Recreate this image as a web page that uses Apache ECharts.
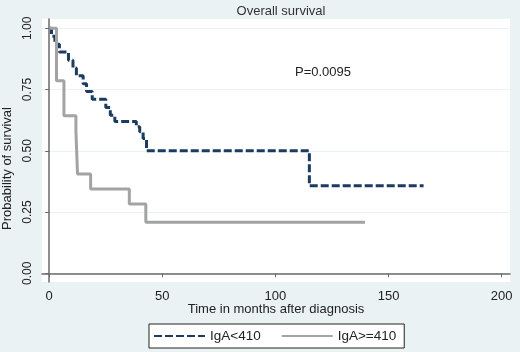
<!DOCTYPE html>
<html>
<head>
<meta charset="utf-8">
<script src="https://cdn.jsdelivr.net/npm/echarts@6/dist/echarts.min.js"></script>
<style>
  html, body { margin: 0; padding: 0; background: #eaf2f3; }
  #km { width: 520px; height: 352px; }
</style>
</head>
<body>
<div id="km"></div>
<script>
// Kaplan-Meier steps (time in months, survival)
var seriesNames = ['IgA<410', 'IgA>=410'];
var lowTimes = [0, 1, 2.5, 4.5, 8.5, 10.5, 12, 15, 16.5, 19, 25, 27, 29, 38.5, 40, 41.5, 43, 115, 165.5];
var lowSurv  = [1, 0.968, 0.935, 0.903, 0.87, 0.838, 0.806, 0.774, 0.742, 0.71, 0.677, 0.645, 0.62, 0.598, 0.578, 0.55, 0.5, 0.357, 0.357];
var highTimes = [0, 3.2, 6.5, 11.8, 12.5, 18.3, 35.4, 42.7, 139.6];
var highSurv  = [1, 0.786, 0.643, 0.58, 0.405, 0.344, 0.283, 0.208, 0.208];
var xTicks = [0, 50, 100, 150, 200];
var yTicks = [0, 0.25, 0.5, 0.75, 1];
var pText = 'P=0.0095';

function pairs(t, s) {
    return t.map(function (v, i) { return [v, s[i]]; });
}

var myChart = echarts.init(document.getElementById('km'));
var font = 'Liberation Sans, Arial, sans-serif';

var option = {
    backgroundColor: '#eaf2f3',
    animation: false,
    title: [{
        text: 'Overall survival',
        left: 276, top: 0, textAlign: 'center',
        textStyle: { fontFamily: font, fontSize: 13, fontWeight: 'normal', color: '#333' }
    }, {
        text: pText,
        left: 290, top: 61,
        textStyle: { fontFamily: font, fontSize: 13, fontWeight: 'normal', color: '#222' }
    }],
    grid: {
        left: 42, right: 10, top: 19, bottom: 70,
        outerBoundsMode: 'none',   // keep plot box fixed, labels may sit outside
        show: true, backgroundColor: '#ffffff', borderWidth: 0
    },
    legend: {
        data: seriesNames,
        left: 149, top: 324,
        padding: [5, 8, 5, 4],
        itemWidth: 51, itemHeight: 14, itemGap: 20,
        borderColor: '#222', borderWidth: 1,
        backgroundColor: '#ffffff',
        itemStyle: { opacity: 0 },   // line only, no marker in the key
        textStyle: { fontFamily: font, fontSize: 13.5, color: '#222' }
    },
    xAxis: {
        type: 'value',
        min: -3.2, max: 203.7,
        name: 'Time in months after diagnosis',
        nameLocation: 'middle', nameGap: 21,
        nameMoveOverlap: false,
        nameTextStyle: { fontFamily: font, fontSize: 13, color: '#222' },
        axisLine: { show: true, lineStyle: { color: '#6a6a6a', width: 1.5 } },
        axisTick: { show: true, length: 4, customValues: xTicks, lineStyle: { color: '#6a6a6a' } },
        axisLabel: { customValues: xTicks, margin: 8, fontFamily: font, fontSize: 13, color: '#222' },
        splitLine: { show: false }
    },
    yAxis: {
        type: 'value',
        min: -0.0355, max: 1.038,
        name: 'Probability of survival',
        nameLocation: 'middle', nameGap: 28, nameRotate: 90,
        nameMoveOverlap: false,
        nameTextStyle: { fontFamily: font, fontSize: 13, color: '#222', padding: [0, 36, 0, 0] },
        axisLine: { show: true, lineStyle: { color: '#6a6a6a', width: 1.5 } },
        axisTick: { show: true, length: 4, customValues: yTicks, lineStyle: { color: '#6a6a6a' } },
        axisLabel: {
            customValues: yTicks, rotate: 90, margin: 8,
            fontFamily: font, fontSize: 12, color: '#222',
            formatter: function (v) { return v.toFixed(2); }
        },
        splitLine: { show: true, lineStyle: { color: '#eaf2f3', width: 1 } }
    },
    series: [{
        name: seriesNames[0],
        type: 'line',
        step: 'end',
        symbol: 'none',
        data: pairs(lowTimes, lowSurv),
        itemStyle: { color: '#1b3b60' },
        lineStyle: { color: '#1b3b60', width: 3, type: [8, 3] }
    }, {
        name: seriesNames[1],
        type: 'line',
        step: 'end',
        symbol: 'none',
        data: pairs(highTimes, highSurv),
        itemStyle: { color: '#a3a3a3' },
        lineStyle: { color: '#a3a3a3', width: 3 }
    }]
};
myChart.setOption(option);
</script>
</body>
</html>
